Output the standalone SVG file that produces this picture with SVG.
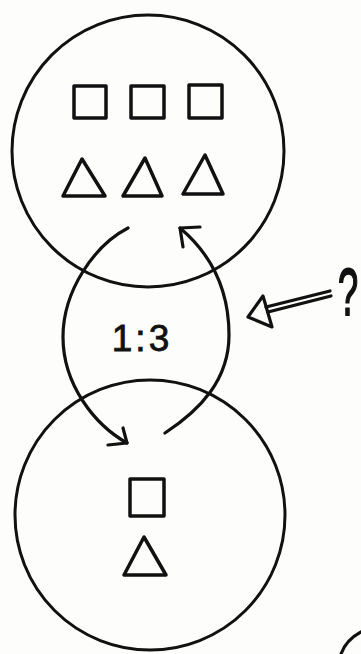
<svg xmlns="http://www.w3.org/2000/svg" width="361" height="654" viewBox="0 0 361 654">
<style>
.c{fill:none;stroke:#111;stroke-width:3}
.s{fill:none;stroke:#111;stroke-width:3.5;stroke-linejoin:round}
.a{fill:none;stroke:#111;stroke-width:3.2;stroke-linecap:round;stroke-linejoin:round}
.t{font-family:"Liberation Sans",Arial,sans-serif;fill:#111}
</style>
<rect width="361" height="654" fill="#fdfdfc"/>
<g id="top-circle">
<circle class="c" cx="148" cy="151" r="136"/>
<rect class="s" x="74" y="86" width="32" height="32"/>
<rect class="s" x="131" y="86" width="33" height="32"/>
<rect class="s" x="189" y="85" width="33" height="33"/>
<polygon class="s" points="82,159 63,196 105,196"/>
<polygon class="s" points="145,158 123,196 162,196"/>
<polygon class="s" points="205,155 183,194 223,194"/>
</g>
<g id="bottom-circle">
<circle class="c" cx="150" cy="515" r="135"/>
<rect class="s" x="130" y="479" width="34" height="37"/>
<polygon class="s" points="144,537 124,575 166,575"/>
</g>
<g id="ratio">
<text class="t" x="142" y="351" font-size="37" text-anchor="middle" letter-spacing="3" stroke="#111" stroke-width="0.8">1:3</text>
</g>
<g id="question">
<text class="t" x="0" y="0" font-size="66" text-anchor="middle" stroke="#111" stroke-width="1.8" transform="translate(348,315) scale(0.55,1)">?</text>
</g>
<g id="connectors">
<path class="a" d="M128,228 C95,245 63,290 63,337 C63,385 95,425 127,443"/>
<polyline class="a" points="108,445 127,443 123,428"/>
<path class="a" d="M165,433 C200,410 229,380 229,335 C229,290 212,255 180,228"/>
<polyline class="a" points="200,227 180,228 183,247"/>
<line class="a" x1="330" y1="291" x2="266" y2="307" stroke-width="2.2"/>
<line class="a" x1="331" y1="296" x2="268" y2="312" stroke-width="2.2"/>
<polygon class="a" points="248,317 263,296 272,327"/>
<path class="a" d="M341,654 Q346,640 361,632"/>
</g>
</svg>
